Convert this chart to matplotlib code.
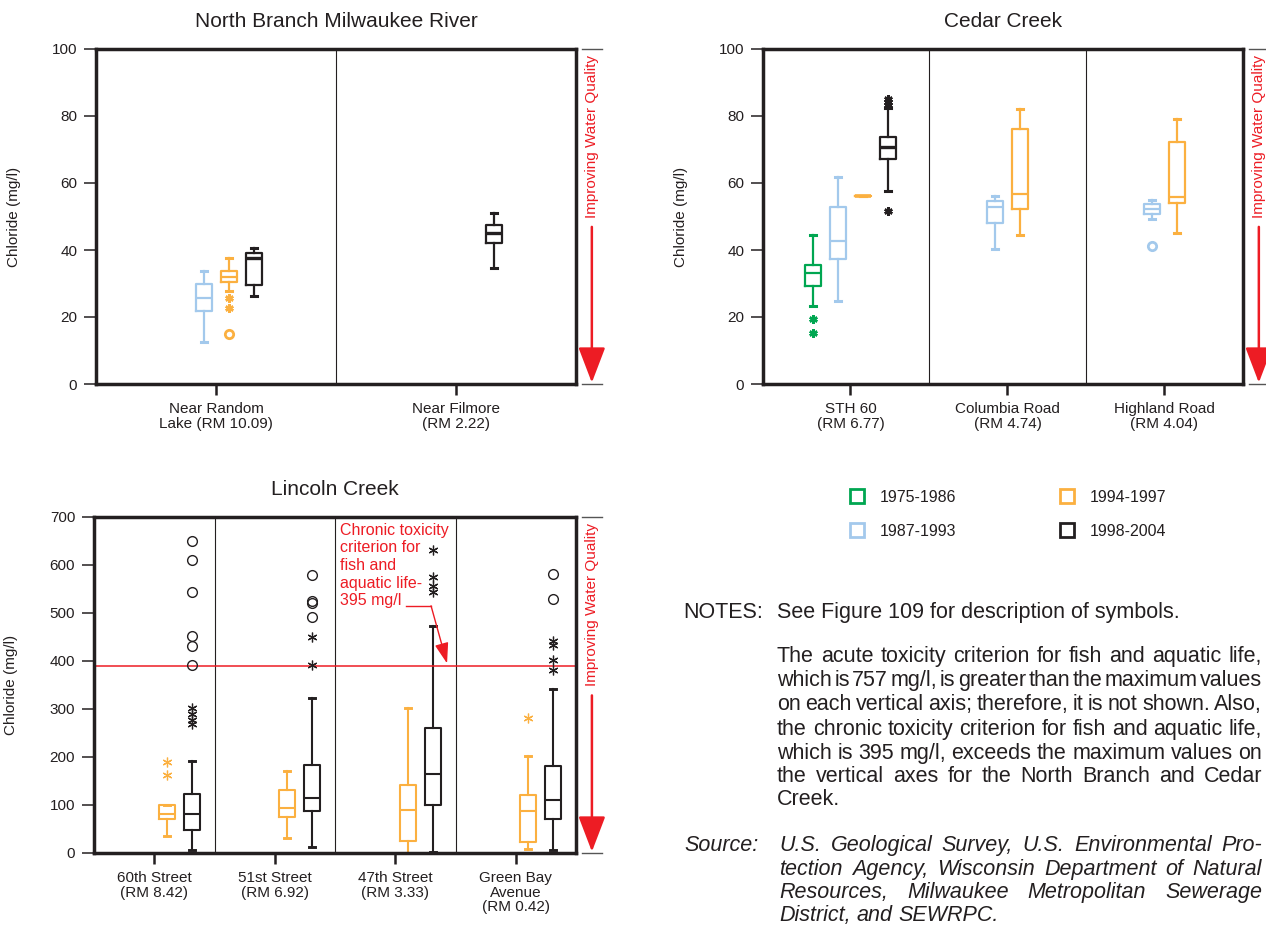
import matplotlib
matplotlib.use('Agg')
import matplotlib.pyplot as plt
from matplotlib.lines import Line2D

plt.rcParams['font.family'] = ['Liberation Sans', 'DejaVu Sans']

W, H = 1266, 926

GREEN = '#00a651'
BLUE = '#a3c9ec'
ORANGE = '#fbb040'
BLACK = '#231f20'
RED = '#ed1c24'

periods = ['1975-1986', '1987-1993', '1994-1997', '1998-2004']
period_colors = [GREEN, BLUE, ORANGE, BLACK]

# boxes: (site, period, whislo, q1, med, q3, whishi)
nb_sites = ['Near Random\nLake (RM 10.09)', 'Near Filmore\n(RM 2.22)']
nb_boxes = [
    (0, 1, 12.5, 21.8, 25.6, 29.9, 33.8),
    (0, 2, 27.8, 30.5, 31.8, 33.8, 37.6),
    (0, 3, 26.3, 29.7, 37.5, 39.1, 40.5),
    (1, 3, 34.6, 42.2, 45.2, 47.5, 51.0),
]
nb_stars = [(0, 2, 25.7), (0, 2, 22.8)]
nb_circles = [(0, 2, 14.8)]

cc_sites = ['STH 60\n(RM 6.77)', 'Columbia Road\n(RM 4.74)', 'Highland Road\n(RM 4.04)']
cc_boxes = [
    (0, 0, 23.3, 29.3, 33.2, 35.5, 44.5),
    (0, 1, 24.8, 37.3, 42.8, 52.8, 61.8),
    (0, 2, 56.0, 56.0, 56.0, 56.0, 56.0),
    (0, 3, 57.6, 67.2, 70.7, 73.7, 82.5),
    (1, 1, 40.2, 48.2, 52.7, 54.7, 56.2),
    (1, 2, 44.4, 52.1, 56.6, 76.0, 82.2),
    (2, 1, 49.4, 50.6, 52.2, 53.6, 55.0),
    (2, 2, 45.0, 53.9, 55.9, 72.3, 79.2),
]
cc_stars = [(0, 0, 19.4), (0, 0, 15.3), (0, 3, 51.7),
            (0, 3, 83.4), (0, 3, 84.2), (0, 3, 85.0)]
cc_circles = [(2, 1, 41.1)]

lc_sites = ['60th Street\n(RM 8.42)', '51st Street\n(RM 6.92)',
            '47th Street\n(RM 3.33)', 'Green Bay\nAvenue\n(RM 0.42)']
lc_boxes = [
    (0, 2, 35, 70, 82, 101, 101),
    (0, 3, 7, 47, 81, 122, 191),
    (1, 2, 31, 74, 93, 131, 171),
    (1, 3, 12, 87, 115, 184, 322),
    (2, 2, 1, 26, 89, 141, 302),
    (2, 3, 3, 100, 165, 260, 472),
    (3, 2, 8, 22, 88, 121, 202),
    (3, 3, 6, 70, 111, 182, 341),
]
lc_stars = [(0, 2, 190), (0, 2, 162), (0, 3, 302), (0, 3, 289), (0, 3, 278), (0, 3, 268),
            (1, 3, 451), (1, 3, 391),
            (2, 3, 632), (2, 3, 575), (2, 3, 556), (2, 3, 543),
            (3, 2, 281),
            (3, 3, 442), (3, 3, 434), (3, 3, 402), (3, 3, 381)]
lc_circles = [(0, 3, 649), (0, 3, 611), (0, 3, 543), (0, 3, 453), (0, 3, 432), (0, 3, 391),
              (1, 3, 580), (1, 3, 524), (1, 3, 520), (1, 3, 491),
              (3, 3, 582), (3, 3, 529)]

criterion = 390

fig = plt.figure(figsize=(W / 100, H / 100), dpi=100)


def rect(l, t, r, b):
    return [l / W, 1 - b / H, (r - l) / W, (b - t) / H]


def panel(box_rect, title, sites, boxes, stars, circles, ymax, ystep,
          lpad=0.0, lw=1.6, thin=False):
    ax = fig.add_axes(rect(*box_rect))
    n = len(sites)
    ppu = (box_rect[2] - box_rect[0]) / (n + lpad)  # pixels per group
    off = 25.0 / ppu
    bw = 16.0 / ppu
    cw = 6.0 / ppu

    def xpos(site, per):
        return site + (per - 1.5) * off

    for site, per, lo, q1, med, q3, hi in boxes:
        c = period_colors[per]
        st = [dict(whislo=lo, q1=q1, med=med, q3=q3, whishi=hi, fliers=[])]
        mlw = lw + 0.8 if (per == 3 and not thin) else lw
        if q1 == q3:
            mlw = 2.6
        ax.bxp(st, positions=[xpos(site, per)], widths=bw, capwidths=cw,
               showfliers=False, manage_ticks=False,
               boxprops=dict(color=c, lw=lw),
               whiskerprops=dict(color=c, lw=lw),
               capprops=dict(color=c, lw=lw + 0.6),
               medianprops=dict(color=c, lw=mlw, solid_capstyle='butt'))

    for site, per, v in stars:
        ax.plot(xpos(site, per), v, ls='none', marker=(6, 2, 0),
                ms=7 if thin else 6, mew=0.9 if thin else 1.8,
                color=period_colors[per], zorder=4)
    for site, per, v in circles:
        ax.plot(xpos(site, per), v, ls='none', marker='o', ms=7 if thin else 6,
                mfc='none', mew=1.0 if thin else 2.0,
                mec=period_colors[per], zorder=4)

    for k in range(1, n):
        ax.axvline(k - 0.5, color=BLACK, lw=0.8, zorder=1)

    ax.set_xlim(-0.5 - lpad, n - 0.5)
    ax.set_ylim(0, ymax)
    ax.set_yticks(range(0, ymax + 1, ystep))
    ax.set_xticks(range(n))
    ax.set_xticklabels(sites, linespacing=1.05)
    ax.tick_params(axis='y', direction='out', length=8.5, width=1.1, pad=5,
                   labelsize=11, color=BLACK, labelcolor=BLACK)
    ax.tick_params(axis='x', direction='out', length=8, width=1.8, pad=5,
                   labelsize=11, color=BLACK, labelcolor=BLACK)
    for s in ax.spines.values():
        s.set_linewidth(2.5)
        s.set_color(BLACK)
    ax.set_ylabel('Chloride (mg/l)', fontsize=11, color=BLACK)
    ax.yaxis.set_label_coords(-0.157, 0.5)
    ax.set_title(title, fontsize=15, pad=16, color=BLACK)

    # improving water quality marker on the right
    for yy in (0, 1):
        ax.plot([1.012, 1.054], [yy, yy], transform=ax.transAxes, clip_on=False,
                color='#555555', lw=1.0)
    ax.text(1.033, 0.982, 'Improving Water Quality', rotation=90, va='top', ha='center',
            transform=ax.transAxes, color=RED, fontsize=11)
    ax.annotate('', xy=(1.033, 0.004), xytext=(1.033, 0.469),
                xycoords='axes fraction', textcoords='axes fraction',
                arrowprops=dict(arrowstyle='-|>,head_length=1.1,head_width=0.42',
                                color=RED, lw=1.8, mutation_scale=20,
                                shrinkA=0, shrinkB=0))
    return ax


panel((96, 49, 576, 384), 'North Branch Milwaukee River', nb_sites,
      nb_boxes, nb_stars, nb_circles, 100, 20)
panel((763, 49, 1243, 384), 'Cedar Creek', cc_sites,
      cc_boxes, cc_stars, cc_circles, 100, 20, lpad=0.057)
lc = panel((94, 517, 576, 853), 'Lincoln Creek', lc_sites,
           lc_boxes, lc_stars, lc_circles, 700, 100, lw=1.5, thin=True)

lc.axhline(criterion, color=RED, lw=1.1, zorder=2)
lc.text(1.54, 688, 'Chronic toxicity\ncriterion for\nfish and\naquatic life-\n395 mg/l',
        color=RED, fontsize=11.5, va='top', ha='left', linespacing=1.22)
lc.plot([2.089, 2.297], [515, 515], color=RED, lw=1.0)
lc.annotate('', xy=(2.43, criterion + 5), xytext=(2.297, 515),
            arrowprops=dict(arrowstyle='-|>,head_length=0.9,head_width=0.3',
                            color=RED, lw=1.0, mutation_scale=14,
                            shrinkA=0, shrinkB=0))

# legend
leg_x = [857, 857, 1067, 1067]
leg_y = [496, 530, 496, 530]
for c, lab, x, y in zip(period_colors, periods, leg_x, leg_y):
    fig.add_artist(Line2D([x / W], [1 - y / H], transform=fig.transFigure,
                          marker='s', ms=10, mfc='none', mec=c, mew=2.0, ls='none'))
    fig.text((x + 23) / W, 1 - y / H, lab, fontsize=11.5, color=BLACK,
             va='center_baseline', ha='left')

# notes
NFS = 15.5
renderer = fig.canvas.get_renderer()


def justify(line, x0, x1, y, style='normal', last=False):
    words = line.split()
    ts = [fig.text(0, 0, w, fontsize=NFS, style=style, color=BLACK,
                   va='center_baseline', ha='left') for w in words]
    widths = [t.get_window_extent(renderer).width for t in ts]
    if last or len(words) < 2:
        gap = 0.278 * NFS / 0.72
    else:
        gap = max((x1 - x0 - sum(widths)) / (len(words) - 1), 2.5)
    x = x0
    for t, w in zip(ts, widths):
        t.set_position((x / W, 1 - y / H))
        x += w + gap


notes_lines = [
    'The acute toxicity criterion for fish and aquatic life,',
    'which is 757 mg/l, is greater than the maximum values',
    'on each vertical axis; therefore, it is not shown. Also,',
    'the chronic toxicity criterion for fish and aquatic life,',
    'which is 395 mg/l, exceeds the maximum values on',
    'the vertical axes for the North Branch and Cedar',
    'Creek.',
]
notes_y = [654, 678, 702, 727, 751, 774, 797]
source_lines = [
    'U.S. Geological Survey, U.S. Environmental Pro-',
    'tection Agency, Wisconsin Department of Natural',
    'Resources, Milwaukee Metropolitan Sewerage',
    'District, and SEWRPC.',
]
source_y = [843, 867, 890, 913]

fig.text(683 / W, 1 - 610 / H, 'NOTES:', fontsize=NFS, color=BLACK, va='center_baseline')
fig.text(777 / W, 1 - 610 / H, 'See Figure 109 for description of symbols.',
         fontsize=NFS, color=BLACK, va='center_baseline')
for i, (ln, y) in enumerate(zip(notes_lines, notes_y)):
    justify(ln, 777, 1262, y, last=(i == len(notes_lines) - 1))

fig.text(684 / W, 1 - 843 / H, 'Source:', fontsize=NFS, style='italic', color=BLACK,
         va='center_baseline')
for i, (ln, y) in enumerate(zip(source_lines, source_y)):
    justify(ln, 779, 1262, y, style='italic', last=(i == len(source_lines) - 1))

fig.savefig('out.png', dpi=100)
